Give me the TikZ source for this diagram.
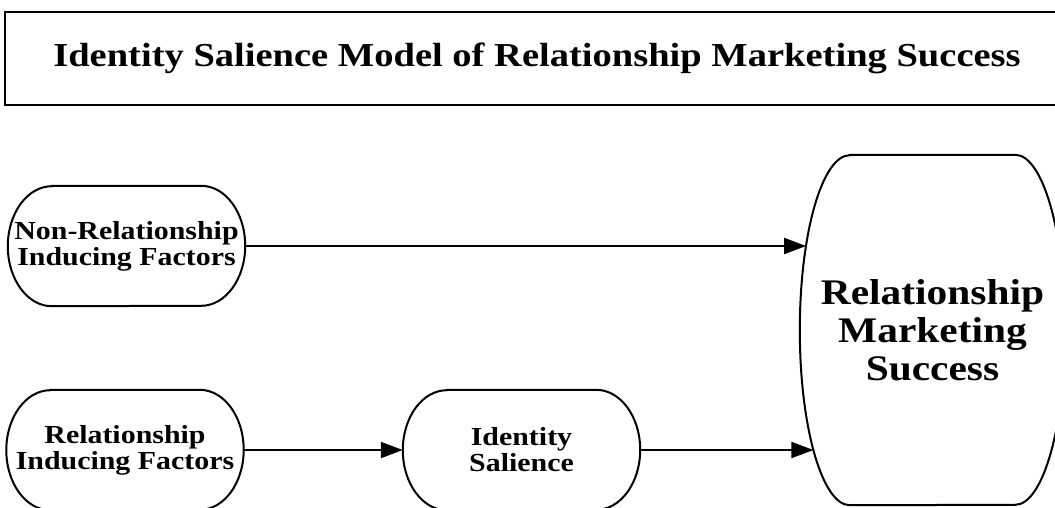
\documentclass[tikz,border=0pt]{standalone}
\usepackage{fontspec}
\setmainfont[FakeStretch=1.15]{Liberation Serif}
\usetikzlibrary{arrows.meta}

% outline of a box whose left and right ends are half ellipses
\newcommand\drawcapsule[3]{%
  \draw[outline] ([xshift=#2]#1.north west) -- ([xshift=-#2]#1.north east)
    arc[start angle=90,end angle=-90,x radius=#2,y radius=#3]
    -- ([xshift=#2]#1.south west)
    arc[start angle=270,end angle=90,x radius=#2,y radius=#3] -- cycle;}

\begin{document}
\begin{tikzpicture}[x=1pt,y=-1pt,
  outline/.style={draw=black,line width=2pt},
  factor/.style={shape=rectangle,inner sep=0pt,minimum width=237pt,minimum height=120pt,
    align=center,font=\bfseries\fontsize{26}{26}\selectfont},
  link/.style={draw=black,line width=2pt,-{Triangle[length=22pt,width=16pt]}}]
  \useasboundingbox (0,0) rectangle (1055,507);
  \fill[white] (0,0) rectangle (1055,507);
  \clip (0,0) rectangle (1055,507);

  % heading
  \node[draw=black,line width=2.2pt,shape=rectangle,minimum width=1064pt,minimum height=93pt,
    inner sep=0pt,font=\bfseries\fontsize{33.5}{38}\selectfont] (title) at (537,58.5)
    {Identity Salience Model of Relationship Marketing Success};

  % model constructs
  \node[factor] (nonrel) at (126.5,246) {Non-Relationship\\Inducing Factors};
  \node[factor] (rel) at (125,450) {Relationship\\Inducing Factors};
  \node[factor] (ident) at (521.5,450) {Identity\\Salience};
  \node[shape=rectangle,inner sep=0pt,minimum width=265pt,minimum height=350pt,align=center,
    font=\bfseries\fontsize{36}{38}\selectfont] (rms) at (932.5,330)
    {Relationship\\Marketing\\Success};

  \drawcapsule{nonrel}{44pt}{60pt}
  \drawcapsule{rel}{44pt}{60pt}
  \drawcapsule{ident}{44pt}{60pt}
  \drawcapsule{rms}{50pt}{175pt}

  % paths
  \draw[link] (nonrel.east) -- ([xshift=6.3pt]nonrel.east -| rms.west);
  \draw[link] (rel.east) -- (ident.west);
  \draw[link] (ident.east) -- ([xshift=13.6pt]ident.east -| rms.west);
\end{tikzpicture}
\end{document}
